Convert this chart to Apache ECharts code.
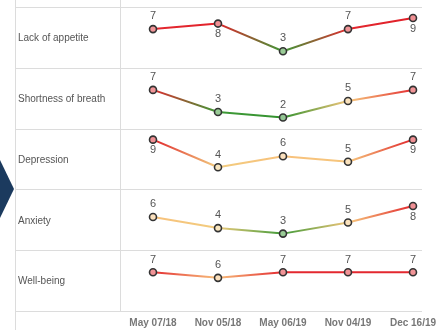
<!DOCTYPE html>
<html>
<head>
<meta charset="utf-8">
<script src="https://cdn.jsdelivr.net/npm/echarts@6/dist/echarts.min.js"></script>
<style>
html,body{margin:0;padding:0;background:#fff;}
#chart{width:444px;height:330px;}
</style>
</head>
<body>
<div id="chart"></div>
<script>
const dates = ['May 07/18', 'Nov 05/18', 'May 06/19', 'Nov 04/19', 'Dec 16/19'];
const measures = ['Lack of appetite', 'Shortness of breath', 'Depression', 'Anxiety', 'Well-being'];
const lackOfAppetite = [7, 8, 3, 7, 9];
const shortnessOfBreath = [7, 3, 2, 5, 7];
const depression = [9, 4, 6, 5, 9];
const anxiety = [6, 4, 3, 5, 8];
const wellBeing = [7, 6, 7, 7, 7];
const seriesValues = [lackOfAppetite, shortnessOfBreath, depression, anxiety, wellBeing];

// colour of a score 0..10
const scoreColors = ['#2e8b2e', '#2e8b2e', '#34922f', '#3f9a38', '#f2cc7e', '#f6c67c', '#f8c17c', '#e3282f', '#e2222b', '#e01f28', '#e01f28'];
const fillColors = ['#8fc48f', '#8fc48f', '#93c693', '#99cb96', '#f9e6bf', '#fae2bd', '#fbe0bd', '#f19497', '#f09095', '#ef8f93', '#ef8f93'];

const TOP = 7, ROW = 60.8, LEFT_LINE = 15, SPLIT_X = 120, RIGHT_X = 422;
const FONT = 'Liberation Sans, Arial, sans-serif';
const chart = echarts.init(document.getElementById('chart'), null, {renderer: 'canvas'});

const grids = [], xAxes = [], yAxes = [], series = [];
measures.forEach((m, i) => {
  const vals = seriesValues[i];
  grids.push({left: 153, right: 31, top: TOP + i * ROW, height: ROW});
  xAxes.push({
    type: 'category', gridIndex: i, data: dates, boundaryGap: false,
    axisLine: {show: false}, axisTick: {show: false}, splitLine: {show: false},
    axisLabel: {show: i === measures.length - 1, color: '#777', fontSize: 10, fontWeight: 'bold', margin: 7, fontFamily: FONT}
  });
  yAxes.push({type: 'value', gridIndex: i, min: 0, max: 11, show: false});
  const stops = vals.map((v, k) => ({offset: k / (vals.length - 1), color: scoreColors[v]}));
  series.push({
    type: 'line', name: m, xAxisIndex: i, yAxisIndex: i,
    data: vals.map(v => ({
      value: v,
      itemStyle: {color: fillColors[v]},
      label: v >= 8 ? {position: 'bottom', distance: 1} : {position: 'top', distance: 3}
    })),
    symbol: 'circle', symbolSize: 7,
    lineStyle: {width: 2, color: new echarts.graphic.LinearGradient(0, 0, 1, 0, stops)},
    itemStyle: {borderColor: '#333', borderWidth: 1.6},
    label: {show: true, color: '#555', fontSize: 11, fontFamily: FONT},
    animation: false
  });
});

const graphics = [];
for (let i = 0; i <= measures.length; i++) {
  const y = Math.round(TOP + i * ROW) + 0.5;
  graphics.push({type: 'line', shape: {x1: LEFT_LINE, y1: y, x2: RIGHT_X, y2: y}, style: {stroke: '#dcdcdc', lineWidth: 1}, silent: true});
}
graphics.push({type: 'line', shape: {x1: LEFT_LINE + 0.5, y1: 0, x2: LEFT_LINE + 0.5, y2: 330}, style: {stroke: '#dcdcdc', lineWidth: 1}});
graphics.push({type: 'line', shape: {x1: SPLIT_X + 0.5, y1: 0, x2: SPLIT_X + 0.5, y2: Math.round(TOP + measures.length * ROW)}, style: {stroke: '#dcdcdc', lineWidth: 1}});
measures.forEach((m, i) => {
  graphics.push({type: 'text', left: 18, top: TOP + i * ROW + ROW / 2 - 4,
    style: {text: m, fill: '#555', fontSize: 10, fontFamily: FONT}});
});
graphics.push({type: 'polygon', shape: {points: [[0, 160], [14, 189], [0, 218]]}, style: {fill: '#1b3a5e'}});

chart.setOption({
  backgroundColor: '#fff',
  animation: false,
  grid: grids, xAxis: xAxes, yAxis: yAxes, series: series,
  graphic: graphics
});
</script>
</body>
</html>
